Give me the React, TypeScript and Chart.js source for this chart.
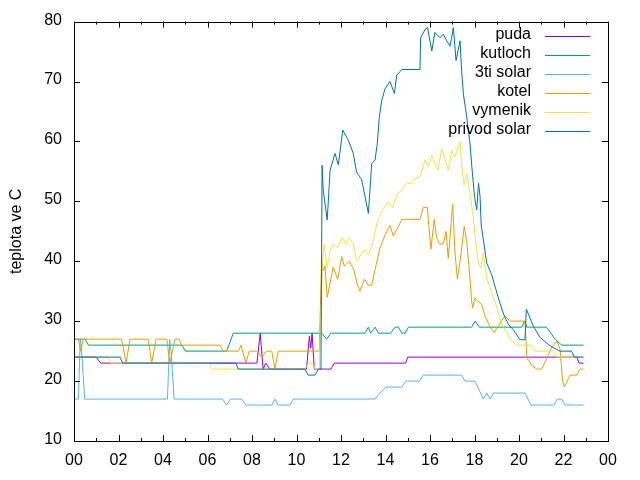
import React, { useEffect, useRef } from "react";
import { Chart, registerables } from "chart.js";

Chart.register(...registerables);

const FONT = "'Liberation Sans', Arial, sans-serif";

const seriesLabels = ["puda", "kutloch", "3ti solar", "kotel", "vymenik", "privod solar"];
const seriesColors = ["#9400d3", "#009e73", "#56b4e9", "#e69f00", "#f0e442", "#0072b2"];

const xTickLabels = ["00", "02", "04", "06", "08", "10", "12", "14", "16", "18", "20", "22", "00"];
const yTickValues = [10, 20, 30, 40, 50, 60, 70, 80];
const yTitle = "teplota ve C";

// [hour, temperature]
const puda: [number, number][] = [
  [0, 24], [1.0, 24], [1.2, 23], [8.22, 23], [8.37, 28], [8.5, 22], [8.62, 23], [8.8, 22],
  [10.45, 22], [10.58, 27.5], [10.64, 25.5], [10.7, 28], [10.8, 22], [11.55, 22], [11.7, 23],
  [14.9, 23], [15.0, 24], [22.6, 24], [22.7, 23], [22.9, 23],
];

const kutloch: [number, number][] = [
  [0, 27], [0.5, 27], [0.65, 26], [4.85, 26], [5.0, 25], [6.86, 25], [7.16, 28], [11.13, 28],
  [11.36, 27], [11.54, 28], [13.08, 28], [13.23, 29], [13.33, 28], [13.53, 29], [13.68, 28],
  [14.23, 28], [14.43, 29], [14.58, 29], [14.73, 28], [14.88, 28], [15.03, 29], [17.87, 29],
  [18.03, 30], [18.22, 29], [20.12, 29], [20.24, 30], [20.36, 29], [21.24, 29], [21.62, 27],
  [21.92, 26], [22.9, 26],
];

const triSolar: [number, number][] = [
  [0, 17], [0.2, 17], [0.28, 27], [0.36, 24], [0.48, 17], [4.2, 17], [4.3, 27], [4.38, 24],
  [4.5, 17], [6.68, 17], [6.86, 16], [7.04, 17], [7.54, 17], [7.72, 16], [8.9, 16], [9.03, 17],
  [9.18, 16], [9.71, 16], [9.86, 17], [13.53, 17], [13.75, 18], [14.02, 19], [14.73, 19],
  [14.92, 20], [15.52, 20], [15.7, 21], [17.42, 21], [17.57, 20], [18.02, 20], [18.4, 17],
  [18.55, 18], [18.7, 17], [18.85, 18], [20.27, 18], [20.54, 16], [21.57, 16], [21.72, 17],
  [21.92, 17], [22.07, 16], [22.9, 16],
];

const kotel: [number, number][] = [
  [0, 27], [0.2, 27], [0.3, 25], [0.42, 27], [2.14, 27], [2.34, 23], [2.52, 27], [3.34, 27],
  [3.49, 23], [3.69, 27], [4.17, 27], [4.31, 23], [4.54, 27], [4.73, 27], [4.84, 26], [6.56, 26],
  [6.71, 25], [7.38, 25], [7.51, 26], [7.72, 23], [7.88, 25], [8.21, 25], [8.44, 24], [8.65, 25],
  [8.89, 25], [9.03, 22], [9.18, 25], [11.02, 25], [11.13, 40], [11.2, 38.4], [11.28, 39.2],
  [11.38, 34], [11.51, 36.4], [11.65, 39], [11.85, 37], [12.03, 40.8], [12.15, 39.2], [12.37, 40],
  [12.58, 38.6], [12.71, 36.4], [12.85, 35], [13.05, 37], [13.23, 36], [13.38, 36], [13.53, 38.6],
  [13.75, 42.2], [13.98, 44.4], [14.2, 46], [14.35, 44.2], [14.58, 45.8], [14.73, 47], [15.55, 47],
  [15.7, 49], [15.88, 49], [15.97, 45], [16.04, 42], [16.19, 47], [16.3, 43.9], [16.42, 42.9],
  [16.6, 42.9], [16.72, 45], [16.82, 40.5], [17.02, 49.5], [17.12, 41.7], [17.23, 37], [17.35, 40],
  [17.54, 45.8], [17.65, 43.3], [17.77, 38.4], [17.87, 33.4], [17.92, 32.2], [18.02, 33.9],
  [18.32, 32.8], [18.47, 30.9], [18.7, 29], [18.89, 28.1], [19.07, 29.2], [19.37, 30.9], [19.6, 30],
  [20.27, 30], [20.35, 24], [20.57, 22.6], [20.8, 22], [21.02, 22], [21.24, 23.7], [21.47, 25.6],
  [21.7, 26.7], [21.84, 25.4], [21.96, 20.1], [22.04, 19], [22.14, 19.8], [22.29, 21], [22.59, 21],
  [22.74, 22], [22.9, 22],
];

const vymenik: [number, number][] = [
  [0, 24], [1.52, 24], [1.65, 23], [6.08, 23], [6.19, 22], [10.38, 22], [10.53, 23], [10.7, 23],
  [10.85, 22], [11.02, 22], [11.09, 30], [11.18, 40.3], [11.24, 42.8], [11.38, 38.9], [11.51, 41.7],
  [11.65, 42.9], [11.85, 42.3], [12.06, 44], [12.21, 42.9], [12.37, 43.9], [12.55, 42.8], [12.71, 40],
  [12.9, 41.1], [13.05, 42], [13.23, 41.1], [13.45, 43.3], [13.63, 46.6], [13.83, 48.3], [14.13, 50],
  [14.32, 48.9], [14.5, 51.1], [14.73, 51.9], [14.95, 53], [15.18, 53], [15.33, 53.8], [15.55, 54.1],
  [15.78, 56.9], [15.93, 55.8], [16.08, 57.7], [16.22, 56.3], [16.37, 55.2], [16.52, 58.8],
  [16.67, 57.1], [16.82, 55.2], [16.97, 58.5], [17.12, 57.4], [17.27, 59.1], [17.35, 60],
  [17.42, 56.3], [17.53, 52.7], [17.65, 54.7], [17.8, 51.3], [17.92, 48], [18.02, 44.4],
  [18.17, 39.7], [18.28, 38.9], [18.4, 41.4], [18.55, 37.2], [18.77, 34.8], [19.0, 32.3],
  [19.22, 29.5], [19.45, 28.1], [19.67, 26.7], [19.9, 26], [20.57, 26], [20.73, 25], [21.55, 25],
  [21.7, 24], [22.9, 24],
];

const privodSolar: [number, number][] = [
  [0, 24], [2.07, 24], [2.19, 23], [7.28, 23], [7.38, 22], [10.38, 22], [10.53, 21], [10.83, 21],
  [10.98, 22], [11.1, 22], [11.15, 56], [11.2, 51.9], [11.38, 46.9], [11.51, 55.2], [11.73, 58],
  [11.88, 56.1], [12.08, 61.9], [12.33, 60.2], [12.55, 58], [12.7, 54.9], [12.93, 53.6],
  [13.08, 50.8], [13.23, 48], [13.3, 51.9], [13.38, 56.3], [13.53, 56.9], [13.63, 59.6], [13.72, 64],
  [13.83, 66.8], [13.98, 68.8], [14.2, 70], [14.4, 68], [14.5, 71], [14.73, 72], [15.55, 72],
  [15.58, 77.3], [15.78, 78.7], [15.89, 79], [16.08, 75.1], [16.22, 78.2], [16.45, 77.3],
  [16.6, 77.9], [16.75, 76.8], [16.9, 75.9], [17.05, 79], [17.17, 73.5], [17.35, 76.8],
  [17.42, 71.8], [17.5, 67.9], [17.65, 64.1], [17.8, 59.6], [17.88, 55.8], [18.0, 50.8],
  [18.1, 48.6], [18.18, 53], [18.25, 50.8], [18.3, 46.1], [18.55, 39.7], [18.77, 37.8],
  [19.07, 33.9], [19.3, 31.2], [19.52, 29.5], [19.78, 28.4], [20.04, 26.9], [20.27, 26.9],
  [20.33, 32], [20.42, 31.2], [20.64, 29.2], [20.94, 27.3], [21.39, 25.9], [21.84, 25],
  [22.35, 25], [22.5, 24], [22.9, 24],
];

const seriesData = [puda, kutloch, triSolar, kotel, vymenik, privodSolar];

const framePlugin = {
  id: "gnuFrame",
  afterDraw(chart: any) {
    const { ctx, chartArea, scales } = chart;
    const { left, top, right, bottom } = chartArea;
    const xs = scales.x;
    const ys = scales.y;
    ctx.save();
    ctx.strokeStyle = "#000";
    ctx.lineWidth = 1;
    ctx.strokeRect(Math.round(left) + 0.5, Math.round(top) + 0.5, Math.round(right - left), Math.round(bottom - top));
    ctx.beginPath();
    for (let h = 0; h <= 24; h++) {
      const px = Math.round(xs.getPixelForValue(h)) + 0.5;
      const len = h % 2 === 0 ? 6 : 3;
      ctx.moveTo(px, bottom);
      ctx.lineTo(px, bottom - len);
      ctx.moveTo(px, top);
      ctx.lineTo(px, top + len);
    }
    for (const v of yTickValues) {
      const py = Math.round(ys.getPixelForValue(v)) + 0.5;
      ctx.moveTo(left, py);
      ctx.lineTo(left + 6, py);
      ctx.moveTo(right, py);
      ctx.lineTo(right - 6, py);
    }
    ctx.stroke();

    // legend
    ctx.font = `16px ${FONT}`;
    ctx.textAlign = "right";
    ctx.textBaseline = "middle";
    chart.data.datasets.forEach((ds: any, i: number) => {
      const yy = top + 14 + 19 * i;
      ctx.fillStyle = "#000";
      ctx.fillText(ds.label, right - 77, yy - 1.5);
      ctx.strokeStyle = ds.borderColor;
      ctx.lineWidth = 1;
      ctx.beginPath();
      ctx.moveTo(right - 63, Math.round(yy) + 0.5);
      ctx.lineTo(right - 18, Math.round(yy) + 0.5);
      ctx.stroke();
    });

    // y title
    ctx.translate(17, (top + bottom) / 2);
    ctx.rotate(-Math.PI / 2);
    ctx.textAlign = "center";
    ctx.fillStyle = "#000";
    ctx.fillText(yTitle, 0, 0);
    ctx.restore();
  },
};

export default function App() {
  const canvasRef = useRef<HTMLCanvasElement | null>(null);

  useEffect(() => {
    if (!canvasRef.current) return;
    const chart = new Chart(canvasRef.current, {
      type: "line",
      data: {
        datasets: seriesLabels.map((label, i) => ({
          label,
          data: seriesData[i].map(([x, y]) => ({ x, y })),
          borderColor: seriesColors[i],
          backgroundColor: seriesColors[i],
          borderWidth: 1,
          pointRadius: 0,
          tension: 0,
          fill: false,
          order: 6 - i,
        })),
      },
      options: {
        responsive: false,
        animation: false,
        layout: { padding: { left: 0, right: 32, top: 19, bottom: 0 } },
        plugins: { legend: { display: false }, tooltip: { enabled: false } },
        scales: {
          x: {
            type: "linear",
            min: 0,
            max: 24,
            afterFit: (s: any) => { s.height = 39; },
            grid: { display: false, drawTicks: false, tickLength: 0 },
            border: { display: false },
            ticks: {
              stepSize: 2,
              autoSkip: false,
              maxRotation: 0,
              padding: 10,
              color: "#000",
              font: { family: FONT, size: 16 },
              callback: (_v: any, idx: number) => xTickLabels[idx],
            },
          },
          y: {
            type: "linear",
            min: 10,
            max: 80,
            afterFit: (s: any) => { s.width = 74; },
            grid: { display: false, drawTicks: false, tickLength: 0 },
            border: { display: false },
            ticks: {
              stepSize: 10,
              padding: 12,
              labelOffset: -1.5,
              color: "#000",
              font: { family: FONT, size: 16 },
            },
          },
        },
      },
      plugins: [framePlugin],
    });
    return () => chart.destroy();
  }, []);

  return (
    <div style={{ position: "absolute", left: 0, top: 0, width: 640, height: 480, background: "#fff" }}>
      <canvas ref={canvasRef} width={640} height={480} />
    </div>
  );
}
